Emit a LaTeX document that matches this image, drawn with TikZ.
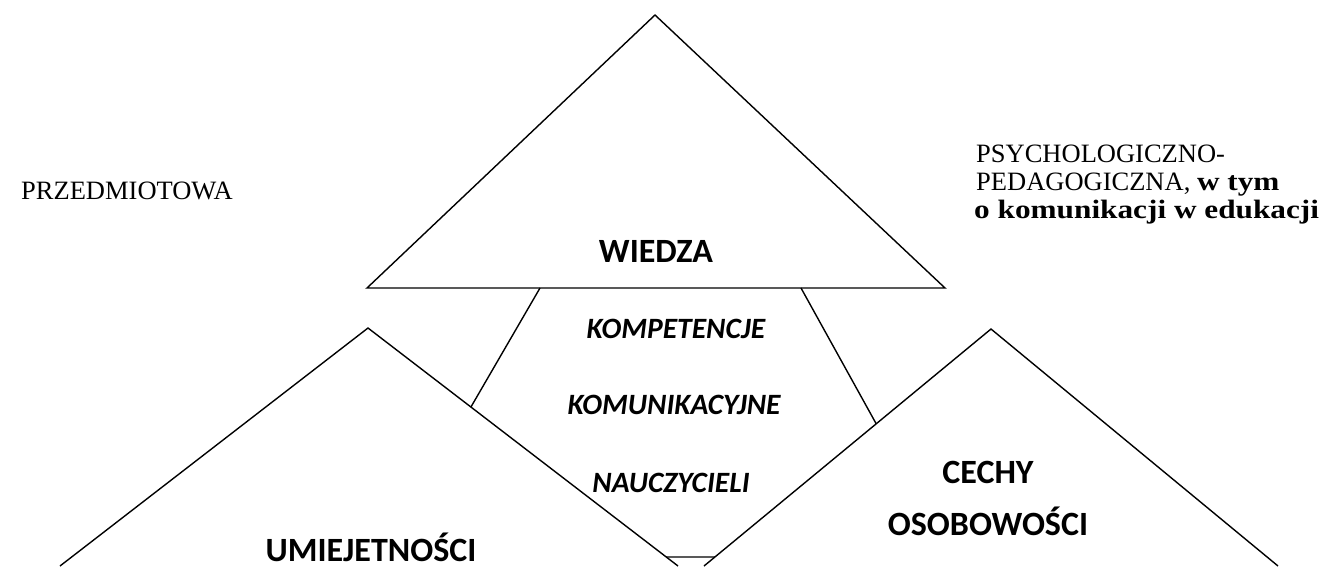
\documentclass[tikz,border=0pt]{standalone}
\usepackage{fontspec}
\setmainfont[BoldFeatures={FakeStretch=1.18}]{Liberation Serif}
\newfontfamily\sansf{Carlito}
\usetikzlibrary{calc}
\tikzset{
  edge/.style={line width=1.4pt, line join=miter},
  bigsans/.style={font=\sansf\bfseries\fontsize{34}{38}\selectfont, inner sep=0pt, anchor=base},
  itsans/.style={font=\sansf\bfseries\itshape\fontsize{29.5}{33}\selectfont, inner sep=0pt, anchor=base},
  serif/.style={font=\fontsize{26.5}{29}\selectfont, inner sep=0pt, anchor=base west},
}
\begin{document}
\begin{tikzpicture}[x=1pt,y=-1pt]
\useasboundingbox (0,0) rectangle (1325,566);
% top triangle
\coordinate (Ta) at (655,15);
\coordinate (Tl) at (367,288);
\coordinate (Tr) at (945,288);
\draw[edge] (Ta) -- (Tl) -- (Tr) -- cycle;
% left triangle
\coordinate (La) at (368,328);
\coordinate (Ll) at (60,566);
\coordinate (Lr) at (678,566);
\draw[edge] (Ll) -- (La) -- (Lr);
% right triangle
\coordinate (Ra) at (991,329);
\coordinate (Rl) at (704,566);
\coordinate (Rr) at (1278,566);
\draw[edge] (Rl) -- (Ra) -- (Rr);
% pentagon connectors
\coordinate (P1) at (540,288);
\coordinate (P2) at ($(La)!0.332!(Lr)$);
\coordinate (P3) at (801,288);
\coordinate (P4) at ($(Ra)!0.40!(Rl)$);
\coordinate (B1) at ($(La)!0.962!(Lr)$);
\coordinate (B2) at ($(Ra)!0.962!(Rl)$);
\draw[edge] (P1) -- (P2);
\draw[edge] (P3) -- (P4);
\draw[edge] (B1) -- (B2);
% texts
\node[bigsans] (wiedza) at (656,262) {WIEDZA};
\node[itsans] (komp) at (676,338) {KOMPETENCJE};
\node[itsans] (komu) at (674,414) {KOMUNIKACYJNE};
\node[itsans] (nauc) at (671,492) {NAUCZYCIELI};
\node[bigsans] (cechy) at (988,483) {CECHY};
\node[bigsans] (osob) at (988,535) {OSOBOWOŚCI};
\node[bigsans] (umie) at (371,561) {UMIEJETNOŚCI};
\node[serif] (przed) at (21,199) {PRZEDMIOTOWA};
\node[serif] (r1) at (976,162) {PSYCHOLOGICZNO-};
\node[serif] (r2) at (976,190) {PEDAGOGICZNA, \textbf{w tym}};
\node[serif] (r3) at (974,218) {\textbf{o komunikacji w edukacji}};
\end{tikzpicture}
\end{document}
